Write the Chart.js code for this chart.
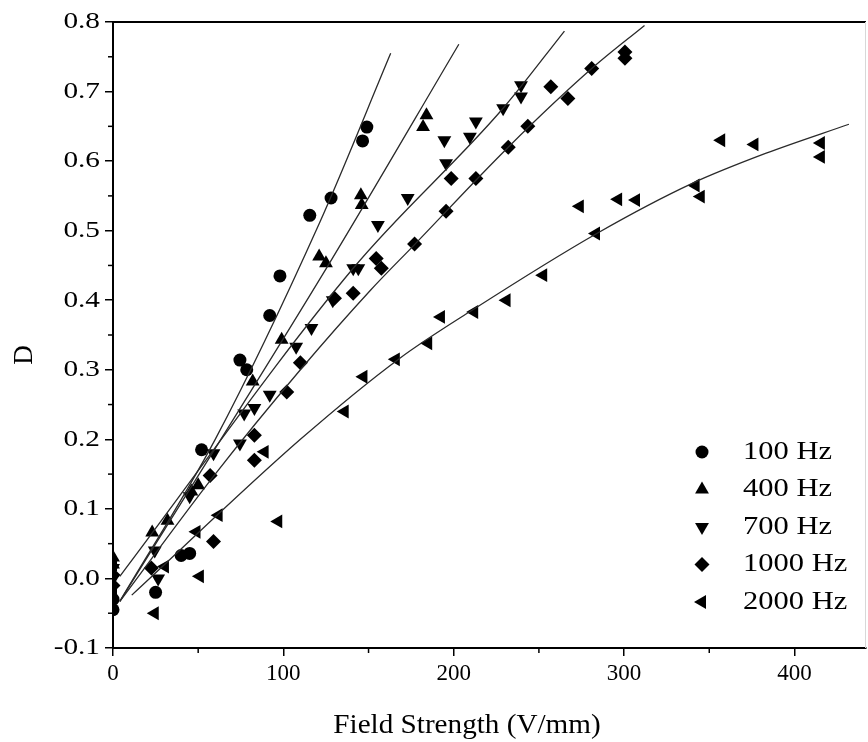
<!DOCTYPE html>
<html><head><meta charset="utf-8">
<script src="https://cdn.jsdelivr.net/npm/chart.js@4.4.1/dist/chart.umd.min.js"></script>
<style>html,body{margin:0;padding:0;background:#fff}canvas{display:block}</style>
</head><body>
<canvas id="c" width="868" height="742"></canvas>
<script>
// ---- data ----
const seriesLabels = ['100 Hz', '400 Hz', '700 Hz', '1000 Hz', '2000 Hz'];

const field100 = [0, 0, 25, 40, 45, 52, 74.5, 78.5, 92, 98, 115.5, 128, 146.5, 149];
const d100     = [-0.045, -0.03, -0.02, 0.033, 0.036, 0.185, 0.314, 0.30, 0.378, 0.435, 0.522, 0.547, 0.629, 0.649];

const field400 = [0, 0, 23, 32, 46, 50, 82, 99, 121, 125, 145.5, 146, 182, 184];
const d400     = [0.02, 0.03, 0.066, 0.083, 0.125, 0.134, 0.283, 0.343, 0.463, 0.453, 0.551, 0.537, 0.649, 0.666];

const field700 = [0, 0, 26.5, 24.5, 45, 59, 74.5, 77, 83, 92, 107.5, 116.5, 129, 141, 144, 155.5, 173, 195.5, 194.5, 209.5, 213, 229, 239.5, 239.5];
const d700     = [0.0, 0.015, 0.0, 0.04, 0.118, 0.18, 0.194, 0.237, 0.245, 0.264, 0.333, 0.36, 0.40, 0.446, 0.446, 0.508, 0.547, 0.597, 0.63, 0.635, 0.657, 0.676, 0.709, 0.693];

const field1000 = [0, 0, 22.5, 57, 59, 83, 83, 102, 110, 130, 141, 154.5, 157.5, 177, 195.5, 198.5, 213, 232, 243.5, 257, 267, 281, 300.5, 300.5];
const d1000     = [0.005, -0.01, 0.015, 0.148, 0.053, 0.206, 0.17, 0.268, 0.31, 0.403, 0.41, 0.46, 0.446, 0.481, 0.528, 0.575, 0.575, 0.62, 0.65, 0.707, 0.69, 0.733, 0.757, 0.748];

const field2000 = [0, 0, 24.5, 30.5, 49, 51, 62, 89, 97, 136, 147, 166, 185, 192.5, 212, 231, 252.5, 274, 283.5, 296.5, 307, 342, 345, 357, 376.5, 415.5, 415.5];
const d2000     = [0.02, -0.015, -0.05, 0.017, 0.067, 0.003, 0.091, 0.182, 0.082, 0.24, 0.29, 0.315, 0.338, 0.376, 0.383, 0.40, 0.436, 0.535, 0.496, 0.545, 0.544, 0.565, 0.549, 0.63, 0.624, 0.626, 0.606];

// fitted curves (anchor points)
const fit100X = [4, 60, 121, 163];
const fit100Y = [-0.033, 0.2, 0.51, 0.755];
const fit400X = [4, 127, 203];
const fit400Y = [-0.033, 0.453, 0.768];
const fit700X = [4, 141, 229, 265];
const fit700Y = [0.003, 0.446, 0.676, 0.787];
const fit1000X = [4, 60, 110, 151, 177, 232, 281, 312];
const fit1000Y = [-0.033, 0.15, 0.30, 0.414, 0.48, 0.62, 0.733, 0.795];
const fit2000X = [11, 110, 168, 211, 284, 340, 383, 432];
const fit2000Y = [-0.024, 0.20, 0.316, 0.386, 0.496, 0.568, 0.611, 0.653];

const xTickValues = [0, 100, 200, 300, 400];
const xMinorTicks = [50, 150, 250, 350];
const yTickValues = [-0.1, 0, 0.1, 0.2, 0.3, 0.4, 0.5, 0.6, 0.7, 0.8];
const yMinorTicks = [-0.05, 0.05, 0.15, 0.25, 0.35, 0.45, 0.55, 0.65, 0.75];

const xTitle = 'Field Strength (V/mm)';
const yTitle = 'D';

// ---- building ----
const zip = (xs, ys) => xs.map((x, i) => ({x: x, y: ys[i]}));
const styles = [
  {pointStyle: 'circle', rotation: 0, radius: 6.5},
  {pointStyle: 'triangle', rotation: 0, radius: 8},
  {pointStyle: 'triangle', rotation: 180, radius: 8},
  {pointStyle: 'rectRot', rotation: 0, radius: 7.5},
  {pointStyle: 'triangle', rotation: 270, radius: 8}
];
const pts = [[field100, d100], [field400, d400], [field700, d700], [field1000, d1000], [field2000, d2000]];
const fits = [[fit100X, fit100Y], [fit400X, fit400Y], [fit700X, fit700Y], [fit1000X, fit1000Y], [fit2000X, fit2000Y]];

const datasets = [];
fits.forEach((f) => {
  datasets.push({
    type: 'line', data: zip(f[0], f[1]), showLine: true, pointRadius: 0,
    borderColor: '#2a2a2a', borderWidth: 1.3, cubicInterpolationMode: 'monotone', fill: false
  });
});
pts.forEach((p, i) => {
  datasets.push({
    type: 'scatter', label: seriesLabels[i], data: zip(p[0], p[1]),
    pointStyle: styles[i].pointStyle, rotation: styles[i].rotation, pointRadius: styles[i].radius,
    backgroundColor: '#000', borderColor: '#000', borderWidth: 0, showLine: false
  });
});

const FONT = "'Liberation Serif', 'Times New Roman', serif";

function stretchedText(ctx, text, x, y, size, sx, align) {
  ctx.save();
  ctx.font = size + 'px ' + FONT;
  ctx.textBaseline = 'middle';
  const w = ctx.measureText(text).width * sx;
  let left = x;
  if (align === 'right') left = x - w;
  else if (align === 'center') left = x - w / 2;
  ctx.translate(left, y);
  ctx.scale(sx, 1);
  ctx.textAlign = 'left';
  ctx.fillText(text, 0, 0);
  ctx.restore();
}

const framePlugin = {
  id: 'frame',
  afterDraw(chart) {
    const {ctx, chartArea: a, scales} = chart;
    const xs = scales.x, ys = scales.y;
    ctx.save();
    ctx.strokeStyle = '#000';
    // top frame
    ctx.lineWidth = 2;
    ctx.beginPath(); ctx.moveTo(a.left, a.top); ctx.lineTo(a.right, a.top); ctx.stroke();
    // right frame (faint)
    ctx.strokeStyle = '#d8d8d8'; ctx.lineWidth = 1;
    ctx.beginPath(); ctx.moveTo(a.right - 0.5, a.top); ctx.lineTo(a.right - 0.5, a.bottom); ctx.stroke();
    // minor ticks
    ctx.strokeStyle = '#000'; ctx.lineWidth = 1.5;
    xMinorTicks.forEach(v => {
      const px = xs.getPixelForValue(v);
      ctx.beginPath(); ctx.moveTo(px, a.bottom); ctx.lineTo(px, a.bottom + 5); ctx.stroke();
    });
    yMinorTicks.forEach(v => {
      const py = ys.getPixelForValue(v);
      ctx.beginPath(); ctx.moveTo(a.left, py); ctx.lineTo(a.left - 5, py); ctx.stroke();
    });
    ctx.fillStyle = '#000';
    // y tick labels
    yTickValues.forEach(v => {
      stretchedText(ctx, v.toFixed(1), a.left - 13, ys.getPixelForValue(v), 24, 1.22, 'right');
    });
    // axis titles
    stretchedText(ctx, xTitle, 467, 726, 27, 1.08, 'center');
    ctx.save();
    ctx.translate(25, 355);
    ctx.rotate(-Math.PI / 2);
    stretchedText(ctx, yTitle, 0, 0, 27, 1.0, 'center');
    ctx.restore();
    // legend
    const lx = 702, tx = 743, y0 = 452, dy = 37.5;
    seriesLabels.forEach((lab, i) => {
      const y = y0 + i * dy;
      Chart.helpers.drawPoint(ctx, {pointStyle: styles[i].pointStyle, rotation: styles[i].rotation, radius: styles[i].radius, borderWidth: 0}, lx, y);
      stretchedText(ctx, lab, tx, y, 25, 1.22, 'left');
    });
    ctx.restore();
  }
};

new Chart(document.getElementById('c'), {
  type: 'scatter',
  data: {datasets: datasets},
  options: {
    responsive: false, animation: false, devicePixelRatio: 1,
    layout: {autoPadding: false, padding: {top: 22, right: 2, left: 0, bottom: 0}},
    plugins: {legend: {display: false}, tooltip: {enabled: false}},
    elements: {point: {borderWidth: 0}},
    scales: {
      x: {
        type: 'linear', min: 0, max: 442,
        afterBuildTicks: s => { s.ticks = xTickValues.map(v => ({value: v})); },
        afterFit: s => { s.height = 94; },
        grid: {display: true, drawOnChartArea: false, drawTicks: true, tickLength: 8, color: '#000', lineWidth: 1.5},
        border: {display: true, color: '#000', width: 2},
        ticks: {color: '#000', font: {family: FONT, size: 23}, padding: 4, maxRotation: 0},
        title: {display: false}
      },
      y: {
        type: 'linear', min: -0.1, max: 0.8,
        afterBuildTicks: s => { s.ticks = yTickValues.map(v => ({value: v})); },
        afterFit: s => { s.width = 113; },
        grid: {display: true, drawOnChartArea: false, drawTicks: true, tickLength: 8, color: '#000', lineWidth: 1.5},
        border: {display: true, color: '#000', width: 2},
        ticks: {display: false},
        title: {display: false}
      }
    }
  },
  plugins: [framePlugin]
});
</script>
</body></html>
